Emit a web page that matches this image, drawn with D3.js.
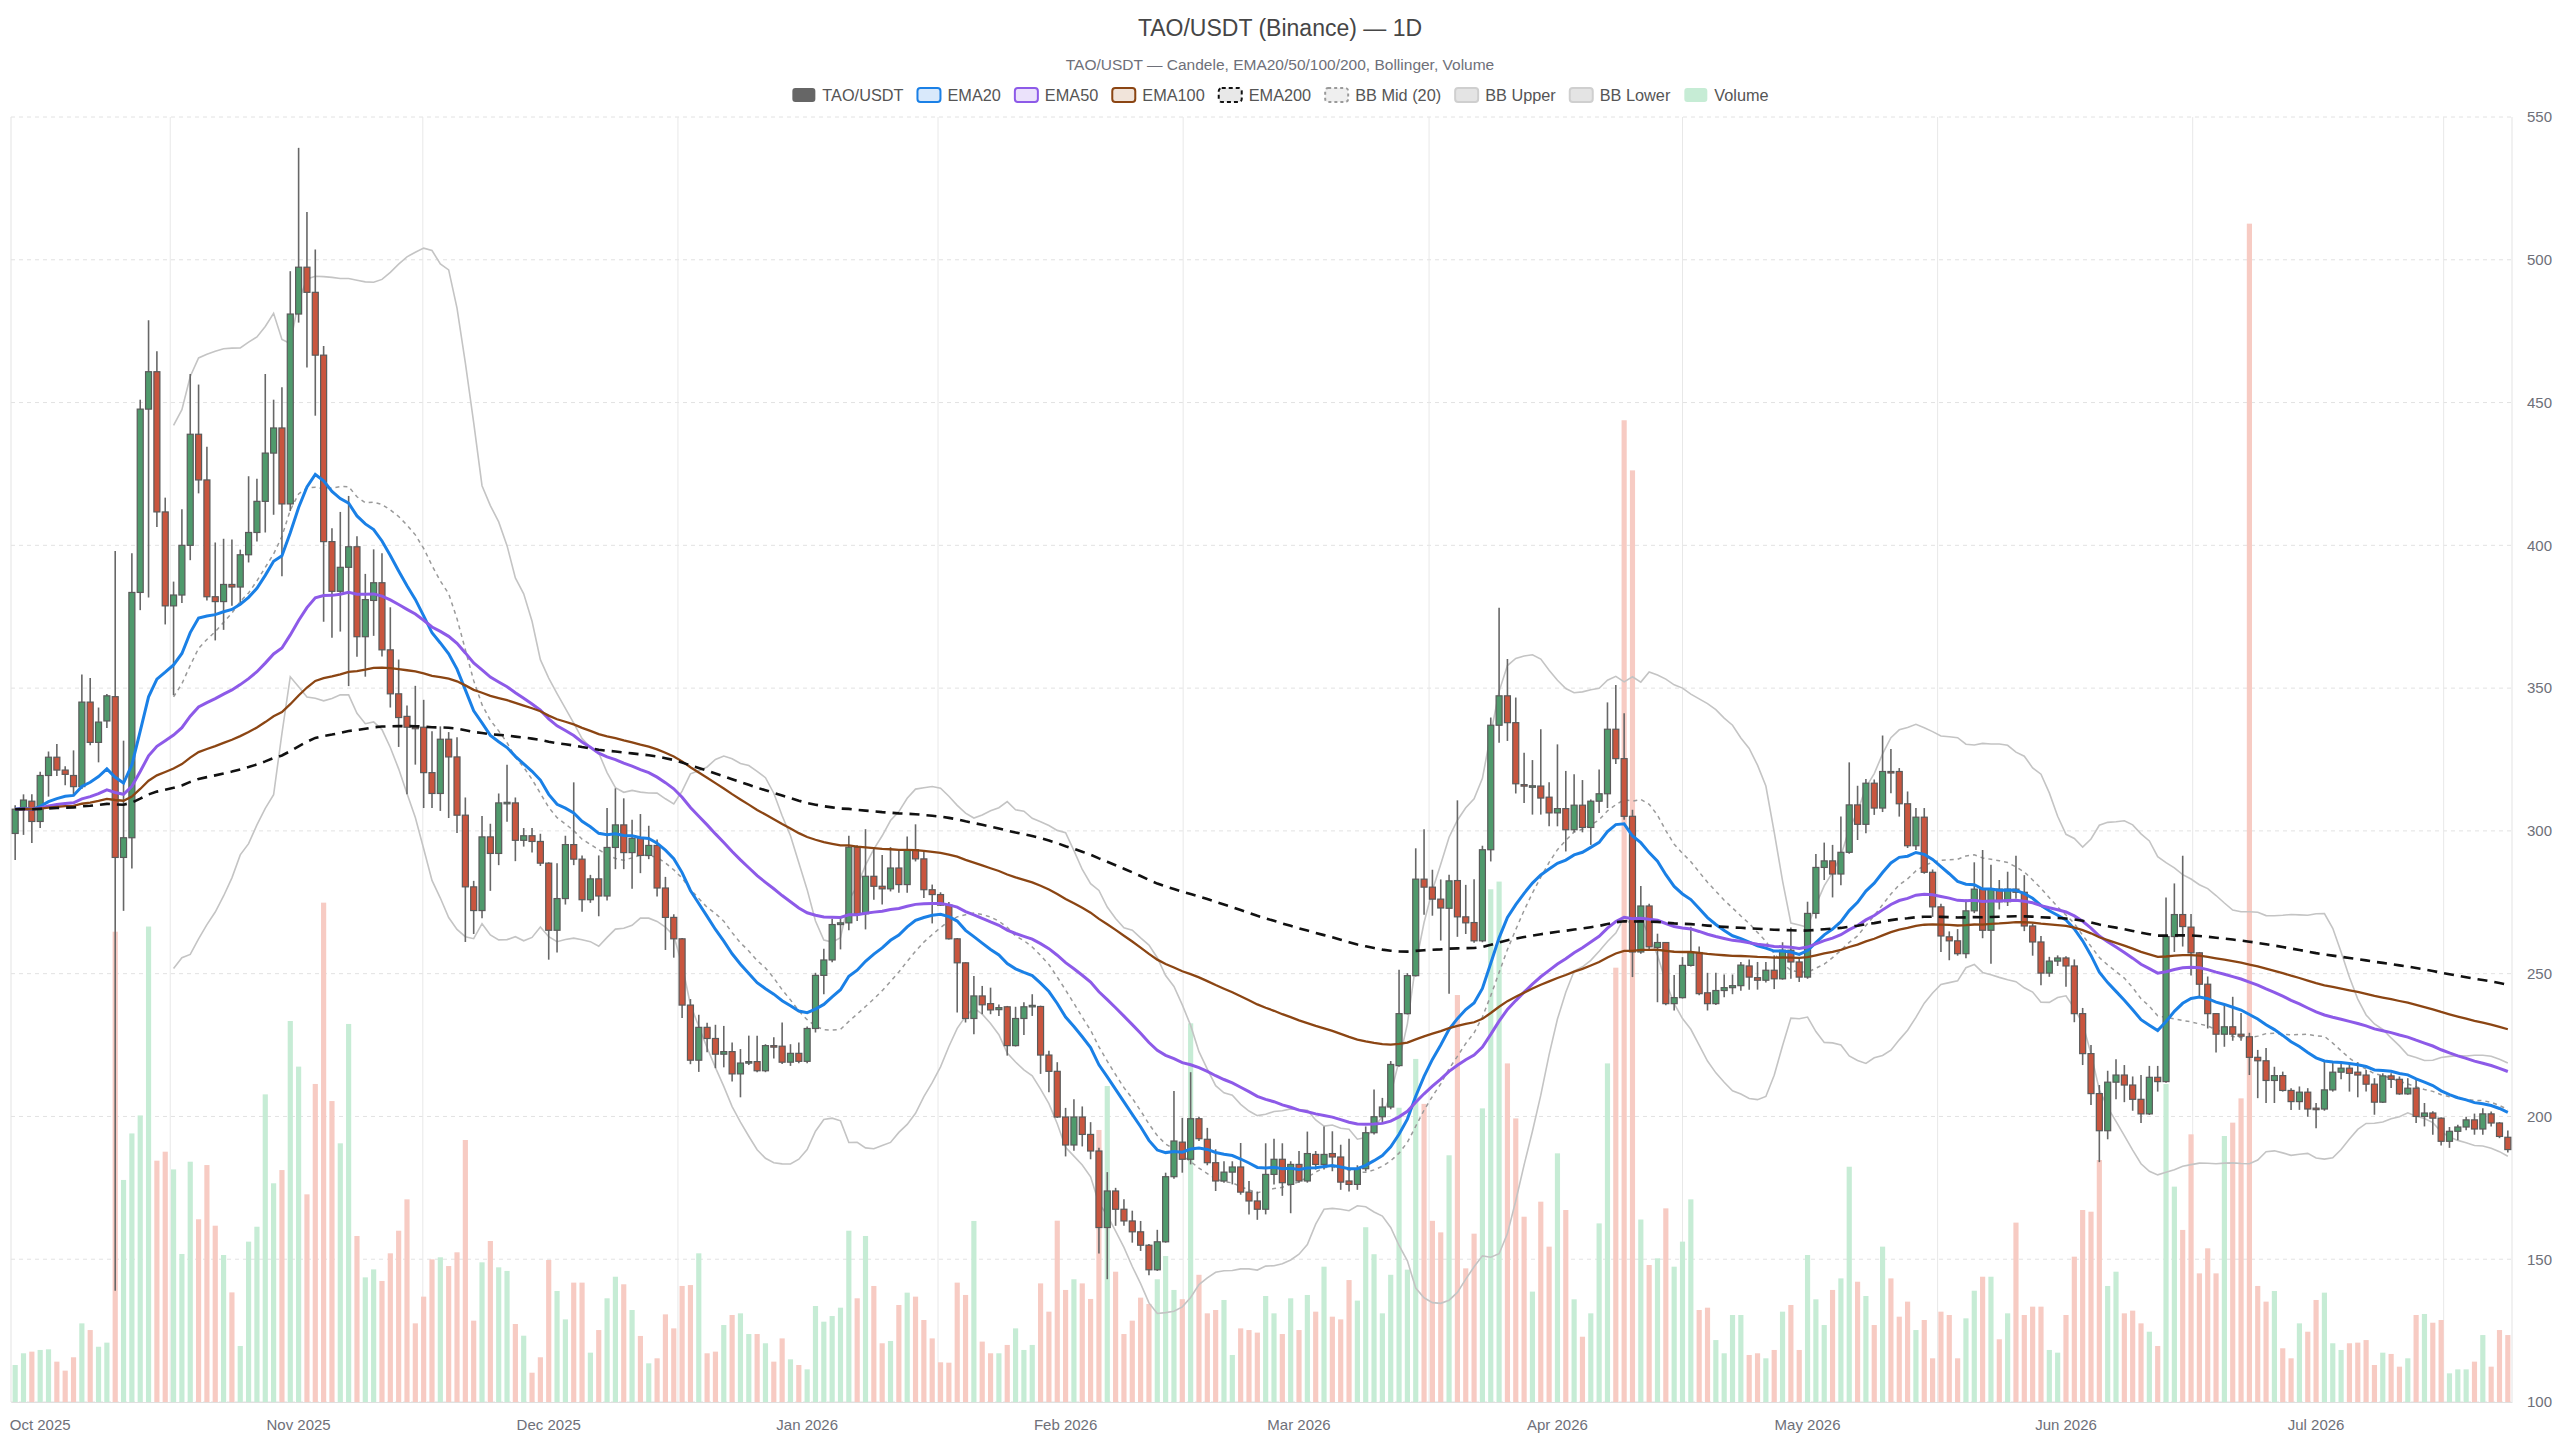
<!DOCTYPE html>
<html>
<head>
<meta charset="utf-8">
<title>TAO/USDT</title>
<script src="https://cdn.jsdelivr.net/npm/d3@7"></script>
<style>
body { margin: 0; background: #fff; }
svg { display: block; font-family: "Liberation Sans", Arial, sans-serif; }
</style>
</head>
<body>
<svg></svg>
<script>
// daily candles, first one is 28 Sep 2025
let startDate = new Date(2025, 8, 28)

let opens = [
  299.1,307.6,310.4,303.3,319.4,325.8,321.3,319.4,315.5,345.1,
  331,338.5,347,290.7,297.6,383.5,447.7,460.8,411.7,378.8,
  382.6,400,438.9,422.9,382,380.3,386.3,385.4,396.7,404.5,
  415.4,432.3,441.1,414.5,481,497.4,488.6,466.6,401.3,383.9,
  392.3,399.5,368,380.7,386.9,363.4,348,340.1,336.3,336.3,
  320.4,313.1,332.1,325.9,305.5,280.4,272.1,297.9,292.1,309.5,
  309.8,296.7,298.3,296.3,288.7,265.2,276.3,295.2,290.1,275.9,
  283.2,277.2,294.2,302.1,292.4,297.4,291.4,294.9,280,269.7,
  262.2,239,219.7,231.2,227.3,221.8,222.7,214.9,218.7,219.2,
  216,224.8,224.6,219,222.1,219.3,230.8,249.4,254.8,267.2,
  267.8,294.3,271,284.1,280.6,279.7,287,281.2,293.4,290.2,
  279.4,277.7,274,262.2,253.8,234.3,242.2,239.5,237.4,238.4,
  224.8,234.3,238.7,238.5,221.5,215.8,199.8,190,199.8,193.7,
  187.9,161.1,173.9,167.5,163.4,159.6,154.9,146.3,156.1,178.9,
  191,185,199.2,192,183.8,177.4,180.5,182.3,173.5,170.4,
  167.5,179.7,185,176.2,183.2,177.4,186.7,183.2,187,185.8,
  177.4,176.2,181.7,194.3,199.9,203.3,217.8,236,249.3,283.1,
  280.3,276.1,272.9,282.6,269.9,267.9,261.5,293.4,337,347.3,
  337.9,316.2,315.6,315.7,311.8,306.3,307.8,300.4,309,301.2,
  310.4,313,335.6,325.3,305.1,257.6,273.7,259.2,260.9,239.5,
  241.6,252.9,257.4,243.3,239.5,244.1,245.1,245.8,252.7,248.6,
  247.7,251.2,248.2,258.2,254.1,248.8,271.1,287.2,289.5,284.9,
  292.5,309.1,302.3,316.7,308,320.8,320.8,309.5,294.8,304.8,
  285.5,273.4,262.9,261.5,257,272,279.6,265.2,279.6,275.2,
  279.6,278.5,266.7,261.1,250.2,254.4,255.5,252.7,236,222,
  208,195,212,214.5,211,206,200.9,213.7,212.2,263,
  270.7,266.3,257.3,246.3,236,228.8,231.4,228.8,227.9,220.7,
  219.5,212.6,214.3,209.1,205.2,208.5,202.9,202.6,209.3,215.5,
  216.9,215.5,214.5,211.3,205,214.2,213,207.9,209.9,200,
  201.2,199.4,191.3,194.8,196.3,198.8,195.6,200.9,197.7,192.7
]

let highs = [
  309,312.8,312.8,320.7,327.8,330.4,322.6,328.2,354.8,353.5,
  343.2,347.9,398,331.6,397.2,451,478.8,468,416.7,387.3,
  412.6,460,456.3,434.5,401,402.3,402,398.5,424.2,423.3,
  460,451,455.4,496,539.2,516.7,503.6,469.8,406,411.7,
  417.3,403.2,390,398.6,397.2,378.3,360,343.9,350.8,345.9,
  334.9,336.6,334.6,332.8,311.7,282.5,305.2,302.5,313.1,323.2,
  311.7,301,301,299,289,288.7,298.3,317,291.4,284.6,
  291.4,308,314.9,311.4,303.9,305.9,301.8,297,283.9,270.8,
  262.5,241.1,235.6,232.8,232.1,231.7,225.9,223.6,228.3,228.3,
  225.3,227.7,232.9,225.3,225.9,231.5,250.3,258.7,269.2,270.1,
  298.3,295,300.6,294.3,291.6,294.3,293.1,298,302.3,293.1,
  281.2,278.5,275.1,262.5,254,249.2,245.7,245.1,239.2,238.7,
  238.4,240,242.8,238.8,223,219,203,206,203.5,198,
  189,180.5,175,171,167,163.4,155.3,160.3,180.3,208.9,
  199.5,215.5,199.9,196,188.5,184.3,184.3,190.7,177.4,173.7,
  190.6,192.2,190.6,184.3,187.9,194.7,187.9,196.5,194.8,190.1,
  192.2,182.9,196.5,209.4,206.5,219.4,251.4,250.2,293.9,300.6,
  286.4,283,284.6,310.7,281.1,283.1,294.8,339.7,378.1,360.2,
  346.7,327.4,324.8,335.6,317,330.3,321,319.8,317.8,311,
  321.5,345,351.1,341.2,307.4,280.7,274.5,264,261.1,249.5,
  255.8,266.4,259.5,250.3,250.3,249.7,249.7,254.1,255,254.1,
  254.1,256.4,261,266.2,255.2,275.2,291.9,295.9,295.1,305,
  324,315.8,318.2,318,333.4,328.7,322,313.8,308,308,
  286.5,274.5,264.8,265.6,276,289,293.3,288.1,282.8,285.7,
  291.3,284.5,267.6,263.2,255.9,256.4,256.1,255,238,225,
  211,216,220,218,214,214.5,217.7,217.7,276.7,281.6,
  291.3,270.9,257.6,249,236.2,238.9,241.9,236.2,229.3,223.3,
  224,217.4,215.7,209.9,210.5,209.9,204.7,219.2,218.7,218.6,
  218.4,219,216.3,213.4,215.1,215.1,214,213.4,213,204.7,
  201.8,199.6,196.3,197.1,199.9,201,202.9,201.7,198,195.1
]

let lows = [
  289.8,298.6,295.8,301,312,319.2,316,312.3,314.7,330,
  324,336,139,272,286.8,377.3,381.7,406.4,372.3,347.5,
  379.8,394.8,418.2,380.7,366.7,370.4,378.8,379.8,394,401.3,
  404.5,410.7,389.2,412,478,462.3,445.4,373.2,367.6,369.8,
  350.7,361,354,368.3,361.1,343.2,329.4,312.8,323.2,308,
  308,307,304.5,299.3,261.1,263.9,269.4,279,288,303.2,
  289.4,294.5,292.4,287.7,254.9,257.4,274.2,288,271.7,274.8,
  270.1,275.6,286.6,286.6,279.7,285.2,290.1,277,258.3,255.6,
  234.5,218.3,215.6,222.5,216.9,217.2,212.2,206.7,218,215.5,
  215.5,220.3,218.4,217.7,218.6,218.6,229.4,242.8,254,258.5,
  265.2,268.4,265.5,275.9,274.2,278.8,278.3,278.3,289.3,276.5,
  267.6,273.8,262,236.4,232.9,228.8,235.8,235.8,235.2,221.3,
  224.5,228.5,235.2,214.9,208.5,199.5,186,188,189.5,185,
  152,143,161.7,161.7,155.8,152.9,144.4,145.9,155.8,178.2,
  180.3,183.2,191.4,182.9,173.9,176.8,176.2,172.6,165.7,163.8,
  165.7,176.2,172.2,166.1,176.8,176.8,181.4,181.4,180.8,174.3,
  173.7,174.3,180.8,193.7,197.6,202.5,217.4,235.7,249,270.6,
  270.3,261.6,243,262.9,263.9,260.8,261,289.3,330.9,331.5,
  313.1,309.8,305.7,305.7,301.6,301.6,292.8,299.5,299.5,295.1,
  306.3,308,323.4,303.9,248.8,257,258,240,238.9,237.1,
  241.3,252.5,242.4,237.1,239,241.7,242.8,244,244.4,244.4,
  246.9,244.6,247.9,248.2,247.1,248.2,269.3,282.8,276.7,281,
  292,296.8,299.2,305.6,306.6,313.2,305,294,293.3,285,
  269.9,257.6,254.7,256.3,255.4,271.2,262.4,253.5,272.5,273.7,
  276.2,264.9,256.3,245.9,248.9,252.7,245.4,233,218,204,
  184,192,206,205,202,197.7,200.5,208.7,211.8,257.6,
  259.5,249.4,241.9,230.8,222.4,224.4,226.5,226.5,214.5,206.4,
  204.7,204.7,208.7,202.3,202.3,199.9,195.9,202,208.7,213,
  208.7,206.7,208.7,200.6,204.7,210,207.6,207.6,197.7,196.5,
  193.6,189.8,189,191.7,195.2,193.6,193.6,196.5,192.4,187.4
]

let closes = [
  307.6,310.8,303.3,319.4,325.8,321.3,319.8,315.5,345.1,331,
  338.1,347.3,290.7,297.6,383.5,447.7,460.8,411.7,378.8,382.6,
  400,438.9,422.9,382,380.3,386.3,385.4,396.7,404.5,415.4,
  432.3,441.1,414.5,481,497.4,488.6,466.6,401.3,383.9,392.3,
  399.5,368,381,386.9,363.4,348,339.7,336.3,336,320.4,
  313.1,332.1,325.9,305.5,280.4,272.1,297.9,292.1,309.8,310,
  296.7,298.3,296.3,288.7,265.2,276.3,295.2,290.1,275.9,283.2,
  277.2,294.2,302.1,292.4,297.4,291.4,294.9,280,269.7,262.2,
  239,219.7,231.2,227.3,221.8,222.7,214.9,218.7,219.2,216,
  224.8,224.6,219,222.1,219.3,230.8,249.4,254.8,267.2,267.8,
  294.3,271,284.1,280.6,279.7,287,281.2,293.4,290.2,279.4,
  277.7,274,262.2,253.8,234.3,242.2,239.1,237.3,238.1,224.8,
  234.3,238.4,238.9,221.5,215.8,199.8,190,199.8,193.7,187.9,
  161.1,173.9,167.5,163.4,159.6,154.9,146.3,156.1,178.9,191.4,
  185,199.2,192.2,183.8,177.4,180.5,182.3,173.5,170.4,167.5,
  179.7,185,176.8,183.2,177.4,187,183.2,186.7,185.8,177,
  176.2,181.7,194.3,199.9,203.3,218.2,236,249.3,283.1,280.3,
  276.1,273,282.5,269.9,267.8,261.5,293.4,337,347.3,337.9,
  316.5,315.7,315.8,311.5,306.3,307.8,300.4,309,301.2,310.4,
  313,335.6,325.3,305.1,257.6,273.7,259.4,260.9,239.5,241.6,
  252.9,257.4,243,239.5,244.1,245.1,245.8,253,248.8,247.7,
  251.2,248.2,258.2,254.1,248.8,271.1,287.2,289.5,284.9,292.5,
  309.1,302.3,316.7,308,320.8,320.5,309.5,294.8,304.8,285.5,
  273.4,263.2,261.5,257,272,279.6,265.2,279.6,275.2,279.6,
  278.5,266.7,261.1,250.2,254.4,255.5,252.7,236,222,208,
  195,212,214.5,211,206,200.9,213.7,212.2,263,270.7,
  266.5,257.3,246.3,236,228.8,231.4,228.8,228.1,220.7,219.5,
  212.6,214.3,209.1,205.2,208.5,202.6,202.6,209.3,215.5,216.9,
  215.1,214.5,211.3,205,214.2,213,207.9,209.9,200,201.2,
  199.4,191.3,194.8,196.3,198.8,195.6,200.9,197.7,193,188.4
]

let volumes = [
  28.8,37.9,39.2,40.5,41,31.4,24.4,34.8,61.2,56,
  43,46.2,366,172.8,209,223,370,187.8,194.8,181,
  115.2,187,142.2,184.4,137.2,114.4,85.3,43.6,124.8,136.4,
  239.4,170.2,180.5,296.5,261,161.6,247.5,388.6,234.2,201.3,
  294.2,129.2,97,103.2,94.2,115.7,133.3,157.7,61.2,82,
  111,112.6,105.8,116.5,203.9,63.3,108.7,125.3,104.8,102,
  60.7,51.6,22.8,34.8,110.5,86.4,64.3,92.9,92.9,38.4,
  56,80.7,97.5,91.6,71.6,51.4,30.1,34,68.2,57.3,
  90.3,91,115.7,37.9,39.2,59.9,67.7,69,52.9,52.9,
  45.7,31.4,49.5,33.2,28.8,25.4,74.7,62.5,66.9,73.4,
  133.3,80.7,129.2,90.3,45.7,47.5,75.5,85.1,82,63.8,
  49.5,30.9,30.6,92.9,83.3,140.9,47,37.9,37.9,44.4,
  57.3,40.5,44.4,92.3,70.3,141.1,87.2,95.5,92.3,80.2,
  211.7,245.9,101.4,52.9,63.3,81.2,76.3,95.5,113.6,87.2,
  80,294.7,99,69,71.6,79.4,36.6,57.3,56,54,
  82.5,69,52.9,80.7,56,83.3,70.3,105.3,66.4,64.3,
  94.9,78.9,136,115,69,99,229,103,267,232,
  141,132,192,316.7,104,131,228.5,399,405,263.5,
  220.7,144.2,85.9,155.9,120.9,193.5,149.4,79.9,50.8,69,
  139,263.5,338,764,725,142,106.6,111.8,150.7,105.3,
  124.8,157.7,71.6,73.4,48.2,37.9,67.7,67.7,36.6,37.9,
  34,40.5,70.3,75.5,40.5,114.4,79.9,59.9,87.2,96.2,
  183.1,93.6,82.5,59.9,120.9,96.2,66.4,78.1,56,63.8,
  34,70.3,67.7,34,65.1,86.6,97.5,97.5,48.8,69,
  139.6,67.7,74.2,74.2,40.5,38.4,67.7,113.1,149.4,148.1,
  188.3,90.3,101.4,69,71.1,61.2,54.7,43.6,247.5,167.6,
  133.9,208.3,100.1,119.6,100.1,207,217.4,236.3,917,90.3,
  78.1,86.4,41.8,34,61.2,54.7,79.4,85.1,45.7,40.5,
  45.7,46.2,48.2,28.8,38.4,37.4,27.5,34,67.7,68.5,
  61.7,63.8,22.3,25.4,25.4,31.4,52.1,27.5,56,52.1
]

let priceTicks = [100, 150, 200, 250, 300, 350, 400, 450, 500, 550]
// vertical split lines, in candle slots from the left edge
let splitSlots = [19.1, 49.4, 80.0, 111.2, 140.6, 170.1, 200.5, 231.1, 261.7, 291.8]
let emaPeriods = [20, 50, 100, 200]
let bbPeriod = 20

let width = 2560
let height = 1440
let plotLeft = 11
let plotRight = 2512
let plotTop = 117
let plotBottom = 1402

let n = closes.length
let dates = d3.range(n).map(i => d3.timeDay.offset(startDate, i))
let isUp = i => closes[i] >= opens[i]

let svg = d3.select('svg').attr('width', width).attr('height', height)

let x = d3.scaleBand().domain(d3.range(n)).range([plotLeft, plotRight]).paddingInner(0).paddingOuter(0)
let xi = d3.scaleLinear().domain([0, n]).range([plotLeft, plotRight])
let y = d3.scaleLinear().domain([100, 550]).range([plotBottom, plotTop])
let yVol = d3.scaleLinear().domain([0, 1000]).range([plotBottom, plotTop])
let bw = x.bandwidth()
let cx = i => x(i) + bw / 2

// indicators computed from the closes
let ema = (vals, p) => {
    let k = 2 / (p + 1)
    let prev
    return vals.map((v, i) => prev = i === 0 ? v : v * k + prev * (1 - k))
}
let emas = emaPeriods.map(p => ema(closes, p))

let bbMid = [], bbUp = [], bbLow = []
closes.forEach((c, i) => {
    if (i < bbPeriod - 1) { bbMid.push(null); bbUp.push(null); bbLow.push(null); return }
    let win = closes.slice(i - bbPeriod + 1, i + 1)
    let m = d3.mean(win)
    let sd = Math.sqrt(d3.mean(win, v => (v - m) * (v - m)))
    bbMid.push(m); bbUp.push(m + 2 * sd); bbLow.push(m - 2 * sd)
})

// title
svg.append('text').attr('x', width / 2).attr('y', 36).attr('text-anchor', 'middle')
    .attr('font-size', 23).attr('fill', '#464646').text('TAO/USDT (Binance) — 1D')
svg.append('text').attr('x', width / 2).attr('y', 70).attr('text-anchor', 'middle')
    .attr('font-size', 15.5).attr('fill', '#6e7079').text('TAO/USDT — Candele, EMA20/50/100/200, Bollinger, Volume')

// grid
let grid = svg.append('g')
grid.selectAll('line.h').data(priceTicks).enter().append('line')
    .attr('x1', plotLeft).attr('x2', plotRight).attr('y1', d => y(d)).attr('y2', d => y(d))
    .attr('stroke', '#e2e2e2').attr('stroke-dasharray', '4,4')
grid.selectAll('line.v').data(splitSlots).enter().append('line')
    .attr('x1', d => xi(d)).attr('x2', d => xi(d)).attr('y1', plotTop).attr('y2', plotBottom)
    .attr('stroke', '#e8e8e8')
grid.selectAll('line.edge').data([plotLeft, plotRight]).enter().append('line')
    .attr('x1', d => d).attr('x2', d => d).attr('y1', plotTop).attr('y2', plotBottom)
    .attr('stroke', '#e3e3e3')

// volume
svg.append('g').selectAll('rect').data(volumes).enter().append('rect')
    .attr('x', (d, i) => cx(i) - bw * 0.31)
    .attr('width', bw * 0.62)
    .attr('y', d => yVol(d))
    .attr('height', d => plotBottom - yVol(d))
    .attr('fill', (d, i) => isUp(i) ? '#c6ecd5' : '#f7cbc3')

// bollinger
let line = vals => d3.line().defined(d => d != null).x((d, i) => cx(i)).y(d => y(d))(vals)
svg.append('path').attr('d', line(bbUp)).attr('fill', 'none').attr('stroke', '#c4c4c4').attr('stroke-width', 1.6)
svg.append('path').attr('d', line(bbLow)).attr('fill', 'none').attr('stroke', '#c4c4c4').attr('stroke-width', 1.6)
svg.append('path').attr('d', line(bbMid)).attr('fill', 'none').attr('stroke', '#9a9a9a')
    .attr('stroke-width', 1.5).attr('stroke-dasharray', '4,4')

// candles
let candles = svg.append('g').selectAll('g').data(closes).enter().append('g')
candles.append('line')
    .attr('x1', (d, i) => cx(i)).attr('x2', (d, i) => cx(i))
    .attr('y1', (d, i) => y(highs[i])).attr('y2', (d, i) => y(lows[i]))
    .attr('stroke', '#676767').attr('stroke-width', 1.6)
candles.append('rect')
    .attr('x', (d, i) => cx(i) - bw * 0.36)
    .attr('width', bw * 0.72)
    .attr('y', (d, i) => y(Math.max(opens[i], closes[i])))
    .attr('height', (d, i) => Math.max(1.5, Math.abs(y(opens[i]) - y(closes[i]))))
    .attr('fill', (d, i) => isUp(i) ? '#4f9a6c' : '#c9553e')
    .attr('stroke', '#5a5a5a').attr('stroke-width', 1.2)

// emas
let emaStyle = [
    { color: '#1a80e6', w: 3, dash: null },
    { color: '#8d5ae8', w: 3, dash: null },
    { color: '#8b4513', w: 2.3, dash: null },
    { color: '#111111', w: 2.6, dash: '10,7' }
]
emas.forEach((vals, k) => {
    svg.append('path').attr('d', line(vals)).attr('fill', 'none')
        .attr('stroke', emaStyle[k].color).attr('stroke-width', emaStyle[k].w)
        .attr('stroke-dasharray', emaStyle[k].dash)
})

// axes
let yAxis = d3.axisRight(y).tickValues(priceTicks).tickSize(0).tickPadding(15)
let gy = svg.append('g').attr('transform', 'translate(' + plotRight + ',0)').call(yAxis)
gy.select('.domain').remove()
gy.selectAll('text').attr('font-size', 15).attr('fill', '#6e7079').attr('font-family', 'Liberation Sans, Arial, sans-serif')

let monthIdx = d3.range(n).filter(i => dates[i].getDate() === 1)
let fmt = d3.timeFormat('%b %Y')
let xAxis = d3.axisBottom(x).tickValues(monthIdx).tickFormat(i => fmt(dates[i])).tickSize(0).tickPadding(17)
let gx = svg.append('g').attr('transform', 'translate(0,' + plotBottom + ')').call(xAxis)
gx.select('.domain').attr('stroke', '#e0e0e0')
gx.selectAll('text').attr('font-size', 15).attr('fill', '#6e7079').attr('font-family', 'Liberation Sans, Arial, sans-serif')

// legend
let legendItems = [
    { name: 'TAO/USDT', fill: '#666666', stroke: 'none', dash: null },
    { name: 'EMA20', fill: '#d9e9fb', stroke: '#1a80e6', dash: null },
    { name: 'EMA50', fill: '#ebe2fb', stroke: '#8d5ae8', dash: null },
    { name: 'EMA100', fill: '#f1e4da', stroke: '#8b4513', dash: null },
    { name: 'EMA200', fill: '#e8e8e8', stroke: '#111111', dash: '4,3' },
    { name: 'BB Mid (20)', fill: '#efefef', stroke: '#9a9a9a', dash: '3,3' },
    { name: 'BB Upper', fill: '#e4e4e4', stroke: '#cfcfcf', dash: null },
    { name: 'BB Lower', fill: '#e4e4e4', stroke: '#cfcfcf', dash: null },
    { name: 'Volume', fill: '#c6ecd5', stroke: 'none', dash: null }
]
let legend = svg.append('g')
let lx = 0
legendItems.forEach(it => {
    let g = legend.append('g').attr('transform', 'translate(' + lx + ',0)')
    g.append('rect').attr('x', 1).attr('y', -7).attr('width', 23).attr('height', 14).attr('rx', 3)
        .attr('fill', it.fill).attr('stroke', it.stroke).attr('stroke-width', 2).attr('stroke-dasharray', it.dash)
    let t = g.append('text').attr('x', 31).attr('y', 5.5).attr('font-size', 16.3).attr('fill', '#555').text(it.name)
    lx += 31 + t.node().getComputedTextLength() + 13
})
lx -= 13
legend.attr('transform', 'translate(' + (width / 2 - lx / 2) + ',95)')
</script>
</body>
</html>
